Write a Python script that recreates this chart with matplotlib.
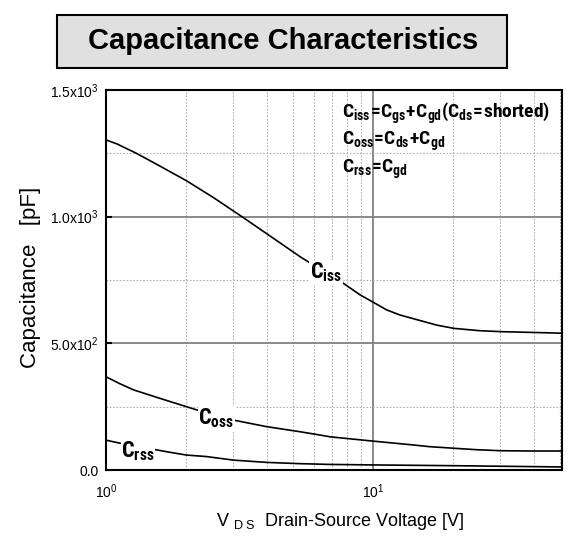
""" Capacitance characteristics chart. """

import matplotlib
matplotlib.use("Agg")
import matplotlib.pyplot as plt
from matplotlib import font_manager
from matplotlib.patches import Rectangle
from matplotlib.ticker import FixedLocator, NullFormatter

# values
vds_iss = [1.0, 1.1, 1.3, 1.59, 2.0, 2.52, 3.27, 4.23, 5.33, 5.98, 7.74, 8.95,
           10.1, 11.25, 12.6, 15.0, 17.3, 20.1, 25.0, 30.3, 39.7, 51.0]
ciss = [1303, 1287, 1250, 1200, 1142, 1076, 996, 915, 842, 809, 737, 691,
        660, 632, 612, 590, 572, 559, 550, 546, 543, 540]

vds_oss = [1.0, 1.13, 1.27, 1.59, 2.0, 2.19, 3.0, 4.0, 5.33, 6.33, 6.9, 10.0,
           14.1, 16.3, 20.0, 24.5, 30.3, 38.8, 51.0]
coss = [368, 340, 316, 283, 250, 237, 197, 171, 151, 138, 131, 114,
        99, 92, 86, 80, 76, 75, 75]

vds_rss = [1.0, 1.06, 1.16, 1.5, 1.69, 2.0, 2.38, 3.0, 4.0, 5.33, 6.9, 10.0,
           20.0, 51.0]
crss = [118, 112, 103, 82, 72, 59, 53, 39, 30, 25, 22, 20, 17, 12]

y_ticks = [0, 500, 1000, 1500]
y_tick_labels = ["0.0", r"5.0x10$^2$", r"1.0x10$^3$", r"1.5x10$^3$"]
x_ticks = [1, 10]
x_tick_labels = [r"10$^0$", r"10$^1$"]

notes = [r"$\mathbf{C_{iss}\!=\!C_{gs}\!+\!C_{gd}(C_{ds}\!=\!shorted)}$",
         r"$\mathbf{C_{oss}\!=\!C_{ds}\!+\!C_{gd}}$",
         r"$\mathbf{C_{rss}\!=\!C_{gd}}$"]


def pick_font(candidates):
    names = {f.name for f in font_manager.fontManager.ttflist}
    for c in candidates:
        if c in names:
            return c
    return "DejaVu Sans"


def main():
    narrow = pick_font(["Liberation Sans Narrow", "Roboto Condensed",
                        "Open Sans Condensed", "Liberation Sans"])
    plt.rcParams["font.family"] = ["Liberation Sans", "DejaVu Sans"]
    plt.rcParams["mathtext.fontset"] = "custom"
    plt.rcParams["mathtext.rm"] = "Liberation Sans"
    plt.rcParams["mathtext.bf"] = narrow + ":bold"
    plt.rcParams["mathtext.it"] = "Liberation Sans:italic"

    fig = plt.figure(figsize=(5.70, 5.39), dpi=100)
    W, H = 570.0, 539.0
    ax = fig.add_axes([106 / W, 1 - 470 / H, 456 / W, 380 / H])

    for v, c in [(vds_iss, ciss), (vds_oss, coss), (vds_rss, crss)]:
        ax.plot(v, c, color="black", lw=1.2, zorder=3)

    ax.set_xscale("log")
    ax.set_xlim(1, 51)
    ax.set_ylim(0, 1500)

    ax.set_yticks(y_ticks)
    ax.set_yticklabels(y_tick_labels, fontsize=10)
    ax.yaxis.set_minor_locator(FixedLocator([250, 750, 1250]))
    ax.set_xticks(x_ticks)
    ax.set_xticklabels(x_tick_labels, fontsize=10)
    ax.xaxis.set_minor_locator(FixedLocator([2, 3, 4, 5, 6, 7, 8, 9, 20, 30, 40, 50]))
    ax.xaxis.set_minor_formatter(NullFormatter())
    ax.tick_params(which="both", direction="in", length=4, width=1.5)
    ax.tick_params(which="minor", length=0)
    ax.tick_params(axis="x", which="major", length=0, pad=9)
    ax.tick_params(axis="y", pad=5)

    ax.grid(which="major", color="#808080", lw=1.3, ls="-")
    ax.grid(which="minor", color="#b0b0b0", lw=0.8, ls=(0, (1.5, 1.5)))
    for s in ax.spines.values():
        s.set_linewidth(1.5)

    ax.set_ylabel("Capacitance   [pF]", fontsize=16)
    ax.yaxis.set_label_coords((41 - 106) / 456, (470 - 277) / 380)
    fig.text(340 / W, 1 - 522 / H, r"V $_{\mathrm{D\ S}}$  Drain-Source Voltage [V]",
             fontsize=13, ha="center", va="center")

    box = dict(facecolor="white", edgecolor="none", pad=0.5)
    ax.text(5.8, 780, r"$\mathbf{C_{iss}}$", fontsize=16, ha="left", va="center",
            bbox=box, zorder=4)
    ax.text(2.22, 205, r"$\mathbf{C_{oss}}$", fontsize=16, ha="left", va="center",
            bbox=box, zorder=4)
    ax.text(1.14, 75, r"$\mathbf{C_{rss}}$", fontsize=16, ha="left", va="center",
            bbox=box, zorder=4)

    note_size = 14 if narrow != "Liberation Sans" else 12
    for i, t in enumerate(notes):
        fig.text(342 / W, 1 - (113 + i * 28) / H, t, fontsize=note_size,
                 ha="left", va="center")

    fig.add_artist(Rectangle((57 / W, 1 - 68 / H), 450 / W, 53 / H,
                             transform=fig.transFigure, facecolor="#e0e0e0",
                             edgecolor="black", lw=1.5))
    fig.text(283 / W, 1 - 41 / H, "Capacitance Characteristics", fontsize=21,
             fontweight="bold", ha="center", va="center")

    fig.savefig("out.png", dpi=100)


if __name__ == "__main__":
    main()
